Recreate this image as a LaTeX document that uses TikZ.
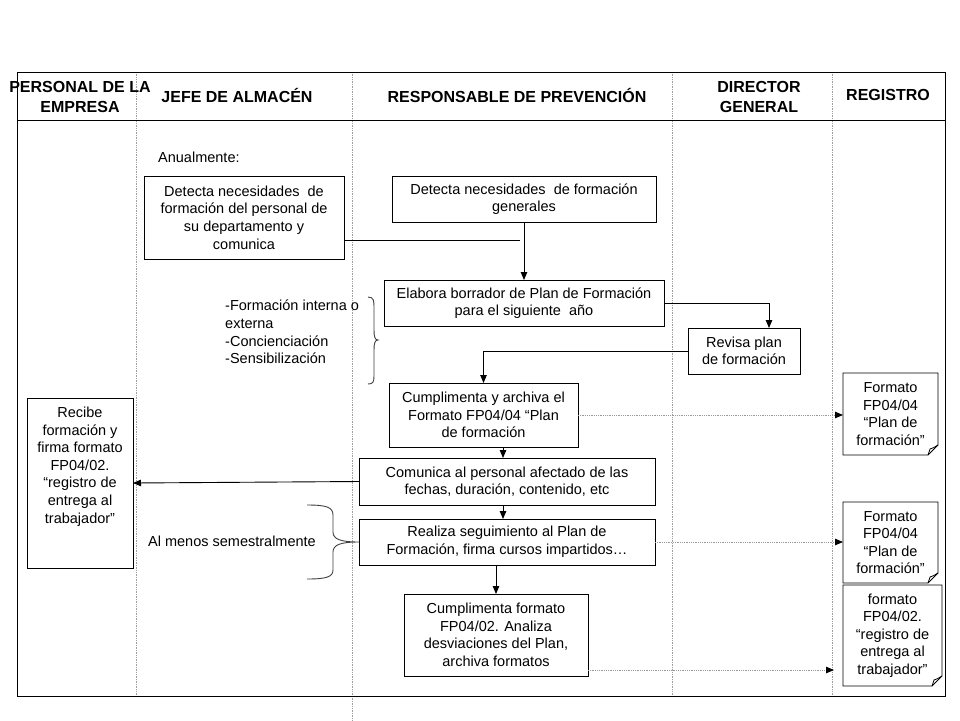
\documentclass[tikz,border=0pt]{standalone}
\usepackage{fontspec}
\setmainfont{Liberation Sans}
\usetikzlibrary{arrows.meta,calc}
\newcommand\myBody{\fontsize{14.5pt}{17.6pt}\selectfont}
\newcommand\myHead{\fontsize{16pt}{20pt}\selectfont\bfseries}
\newcommand\foldoutline[1]{%
  \draw[line width=0.9pt] (#1.north west) -- (#1.north east) -- ($(#1.south east)+(0,-10)$) -- ($(#1.south east)+(-10,0)$) -- (#1.south west) -- cycle;
  \draw[line width=0.8pt] ($(#1.south east)+(0,-10)$) .. controls ($(#1.south east)+(-5,-7)$) .. ($(#1.south east)+(-8,-6)$) -- ($(#1.south east)+(-10,0)$);}
\begin{document}
\begin{tikzpicture}[x=1pt,y=-1pt,
  box/.style={draw, line width=0.9pt, inner sep=2pt, outer sep=0pt, align=center, font=\myBody},
  regbox/.style={inner sep=2pt, outer sep=0pt, align=center, font=\myBody},
  txt/.style={inner sep=1pt, font=\myBody},
  hdr/.style={inner sep=1pt, align=center, font=\myHead},
  lane/.style={draw=gray!75, densely dotted, line width=0.7pt},
  ln/.style={line width=0.9pt},
  arr/.style={ln, -{Triangle[length=8pt,width=6.5pt]}},
  darr/.style={line width=0.8pt, draw=gray!80, densely dotted, -{Triangle[length=8pt,width=6.5pt,color=black]}},
  brc/.style={line width=0.9pt, draw=black!75}]
\useasboundingbox (0,0) rectangle (960,720);
\fill[white] (0,0) rectangle (960,720);

% lanes and frame
\draw[lane] (136,72) -- (136,696);
\draw[lane] (352,72) -- (352,720);
\draw[lane] (672,72) -- (672,696);
\draw[lane] (832,72) -- (832,696);
\draw[line width=1pt] (17,72) rectangle (945,696);
\draw[line width=1pt] (17,120) -- (945,120);

% headers
\node[hdr] (hpers) at (80,97) {PERSONAL DE LA\\EMPRESA};
\node[hdr] (hjefe) at (237,95) {JEFE DE ALMACÉN};
\node[hdr] (hresp) at (517,95) {RESPONSABLE DE PREVENCIÓN};
\node[hdr] (hdir) at (759,97) {DIRECTOR\\GENERAL};
\node[hdr] (hreg) at (888,95) {REGISTRO};

% free texts
\node[txt, anchor=west] (anual) at (157,157) {Anualmente:};
\node[txt, anchor=north west, align=left] (tipos) at (224,299) {-Formación interna o\\externa\\-Concienciación\\-Sensibilización};
\node[txt, anchor=west] (semes) at (147,541) {Al menos semestralmente};

% process boxes
\node[box, minimum width=200pt, minimum height=83pt] (ja1) at (244,217.5) {Detecta necesidades\ \ de\\formación del personal de\\su departamento y\\comunica};
\node[box, minimum width=264pt, minimum height=46pt] (rp1) at (524,199) {Detecta necesidades\ \ de formación\\generales};
\node[box, minimum width=280pt, minimum height=46pt] (rp2) at (524,303) {Elabora borrador de Plan de Formación\\para el siguiente\ \ año};
\node[box, minimum width=112pt, minimum height=46pt] (rev) at (744,351) {Revisa plan\\de formación};
\node[box, minimum width=189pt, minimum height=64pt] (rp3) at (483.5,415) {Cumplimenta y archiva el\\Formato FP04/04 “Plan\\de formación};
\node[box, minimum width=296pt, minimum height=47pt] (rp4) at (507,481.5) {Comunica al personal afectado de las\\fechas, duración, contenido, etc};
\node[box, minimum width=296pt, minimum height=46pt] (rp5) at (507,542) {Realiza seguimiento al Plan de\\Formación, firma cursos impartidos…};
\node[box, minimum width=184pt, minimum height=82pt] (rp6) at (496,635) {Cumplimenta formato\\FP04/02. Analiza\\desviaciones del Plan,\\archiva formatos};
\node[draw, line width=0.9pt, inner sep=0pt, outer sep=0pt, font=\myBody] (recibe) at (80,483) {\parbox[c][170pt][t]{106pt}{\centering\vspace*{9pt}Recibe\\formación y\\firma formato\\FP04/02.\\“registro de\\entrega al\\trabajador”}};

% register documents
\node[regbox, minimum width=95pt, minimum height=82pt] (reg1) at (890.5,414) {Formato\\FP04/04\\“Plan de\\formación”};
\node[regbox, minimum width=95pt, minimum height=81pt] (reg2) at (890.5,542.5) {Formato\\FP04/04\\“Plan de\\formación”};
\node[regbox, minimum width=99pt, minimum height=101pt] (reg3) at (892.5,635.5) {formato\\FP04/02.\\“registro de\\entrega al\\trabajador”};
\foldoutline{reg1}
\foldoutline{reg2}
\foldoutline{reg3}

% connectors
\coordinate (jend) at (520,240);
\draw[ln] (ja1.east |- jend) -- (jend);
\draw[arr] (rp1.south) -- (rp2.north);
\coordinate (revin) at (769,328);
\draw[arr] (rp2.east) -| (revin);
\draw[arr] (rev.west) -| (rp3.north);
\coordinate (xa) at (503,0);
\draw[arr] (rp3.south -| xa) -- (rp4.north -| xa);
\draw[arr] (rp4.south -| xa) -- (rp5.north -| xa);
\draw[arr] (rp5.south -| rp6.north) -- (rp6.north);
\draw[arr] (rp4.west) -- (recibe.east);
\draw[darr] (rp3.east) -- (rp3.east -| reg1.west);
\draw[darr] (rp5.east) -- (rp5.east -| reg2.west);
\coordinate (r3in) at (834,670);
\draw[darr] (rp6.east |- r3in) -- (r3in);

% braces
\draw[brc] (368,297) .. controls (374,297) and (374,301) .. (374,308) -- (374,330) .. controls (374,337) and (375,340) .. (378,340) .. controls (375,340) and (374,343) .. (374,350) -- (374,376) .. controls (374,382) and (373,384) .. (368,384);
\draw[brc] (307,505) .. controls (326,505) and (333,507) .. (333,515) -- (333,532) .. controls (333,539) and (340,542) .. (rp5.west) .. controls (340,542) and (333,545) .. (333,552) -- (333,570) .. controls (333,577) and (326,579) .. (307,579);
\end{tikzpicture}
\end{document}
